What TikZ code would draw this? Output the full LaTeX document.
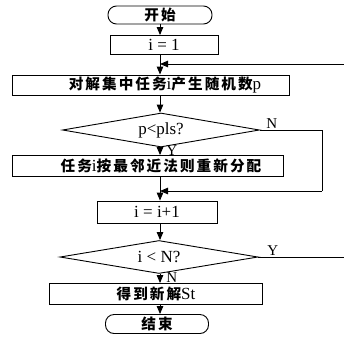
\documentclass[tikz,border=0pt]{standalone}
\usepackage{fontspec}
\setmainfont{Liberation Serif}
\newfontfamily\cjkfont{Noto Sans CJK SC}[Scale=0.86,LetterSpace=14]
\usetikzlibrary{arrows.meta,shapes.geometric,calc}
\newcommand{\zh}[1]{{\cjkfont\bfseries #1}}
\begin{document}
\begin{tikzpicture}[x=1pt,y=-1pt,
  line width=0.9pt,
  every node/.style={font=\fontsize{17}{20}\selectfont},
  procbox/.style={draw,rectangle,inner sep=0pt},
  termbox/.style={draw,rectangle,rounded corners=8.5pt,inner sep=0pt},
  decbox/.style={draw,diamond,aspect=6,inner sep=0pt},
  lbl/.style={font=\fontsize{15}{17}\selectfont,inner sep=0pt},
  arr/.style={-{Triangle[length=8pt,width=6.5pt]}}
]
\useasboundingbox (0,0) rectangle (344,343);
\coordinate (mx) at (160,0);

\node[termbox,minimum width=104pt,minimum height=18pt] (start) at (160,15) {\zh{开始}};
\node[procbox,minimum width=108pt,minimum height=19pt] (i1) at (164,45) {i = 1};
\node[procbox,minimum width=277pt,minimum height=20pt] (b3) at (151,85) {\hspace*{28pt}\zh{对解集中任务}i\zh{产生随机数}p};
\node[decbox,minimum width=197pt,minimum height=34pt] (d1) at (161,130) {p<pls?};
\node[procbox,minimum width=271pt,minimum height=21pt] (b4) at (148,166) {\hspace*{26pt}\zh{任务}i\zh{按最邻近法则重新分配}};
\node[procbox,minimum width=120pt,minimum height=22pt] (b5) at (157,212) {i = i+1};
\node[decbox,minimum width=198pt,minimum height=33pt] (d2) at (159,257) {i < N?};
\node[procbox,minimum width=213pt,minimum height=21pt] (b6) at (156,294) {\zh{得到新解}St};
\node[termbox,minimum width=103pt,minimum height=19pt] (end) at (157,324) {\zh{结束}};

\coordinate (j1) at (160,64);
\coordinate (j2) at (160,191);
\coordinate (e1) at (344,257);
\coordinate (e2) at (344,64);
\coordinate (nr) at (322,130);
\coordinate (nb) at (322,191);

\node[lbl,anchor=south west] (ln1) at (266,129) {N};
\node[lbl,anchor=south west] (ly1) at (166,155.5) {Y};
\node[lbl,anchor=south west] (ly2) at (267,256) {Y};
\node[lbl,anchor=south west] (ln2) at (166,283) {N};

\draw[arr] (start.south -| mx) -- (i1.north -| mx);
\draw[arr] (i1.south -| mx) -- (b3.north -| mx);
\draw[arr] (e2) -- (j1);
\draw[arr] (b3.south -| mx) -- (d1.north -| mx);
\draw[arr] (d1.south -| mx) -- (b4.north -| mx);
\draw (d1.east) -- (nr) -- (nb);
\draw[arr] (nb) -- (j2);
\draw[arr] (b4.south -| mx) -- (b5.north -| mx);
\draw[arr] (b5.south -| mx) -- (d2.north -| mx);
\draw (d2.east) -- (e1);
\draw[arr] (d2.south -| mx) -- (b6.north -| mx);
\draw[arr] (b6.south -| mx) -- (end.north -| mx);
\end{tikzpicture}
\end{document}
